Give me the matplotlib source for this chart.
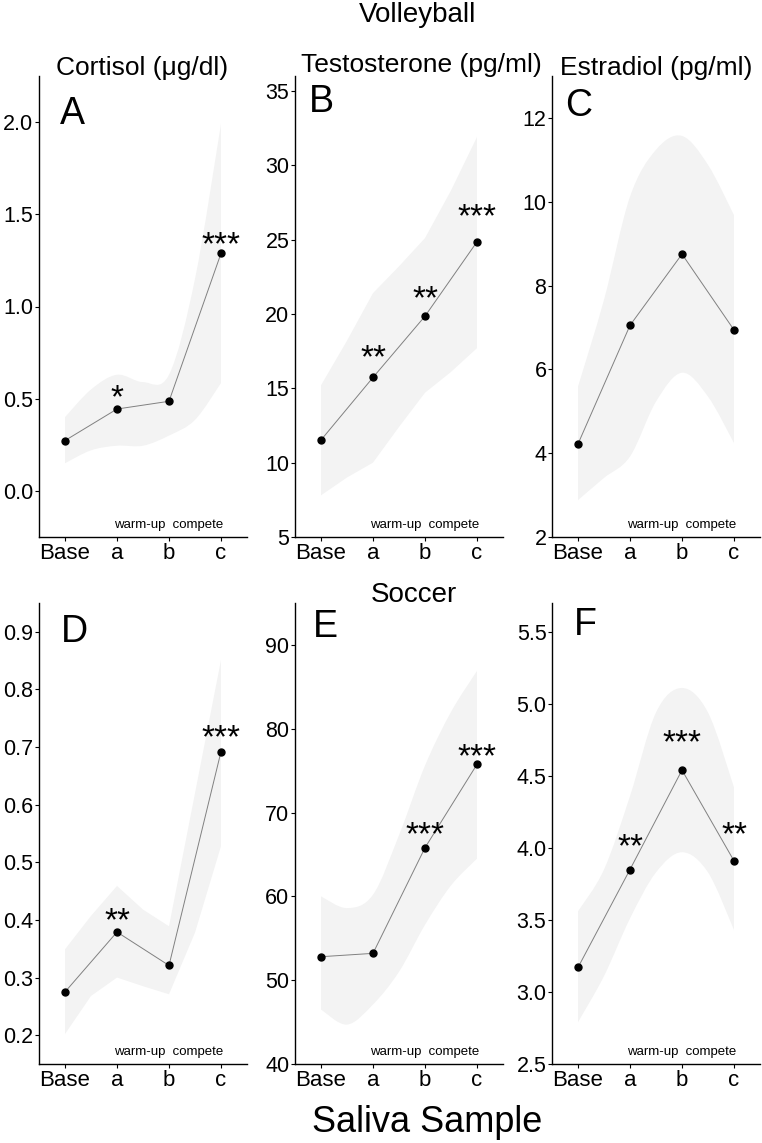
import numpy as np
import matplotlib.pyplot as plt
from matplotlib.path import Path
from matplotlib.patches import PathPatch

plt.rcParams['font.family'] = ['Liberation Sans', 'DejaVu Sans']

samples = ['Base', 'a', 'b', 'c']
xb = [0, 0.5, 1, 1.5, 2, 2.5, 3]   # where the band edges were read

# Volleyball
cort_v = [0.273, 0.444, 0.486, 1.288]
cort_v_hi = [0.40, 0.55, 0.63, 0.59, 0.63, 1.15, 1.99]
cort_v_lo = [0.15, 0.22, 0.245, 0.245, 0.30, 0.385, 0.585]
cort_v_stars = ['', '*', '', '***']
cort_v_star_y = [0, 0.558, 0, 1.387]

test_v = [11.52, 15.73, 19.85, 24.85]
test_v_hi = [15.2, 18.2, 21.4, 23.2, 25.1, 28.3, 31.9]
test_v_lo = [7.8, 9.0, 10.0, 12.4, 14.7, 16.1, 17.7]
test_v_stars = ['', '**', '**', '***']
test_v_star_y = [0, 17.7, 21.7, 27.2]

estr_v = [4.22, 7.05, 8.75, 6.94]
estr_v_hi = [5.59, 7.66, 10.12, 11.24, 11.57, 10.88, 9.68]
estr_v_lo = [2.88, 3.41, 3.92, 5.23, 5.92, 5.35, 4.24]
estr_v_stars = ['', '', '', '']
estr_v_star_y = [0, 0, 0, 0]

# Soccer
cort_s = [0.275, 0.379, 0.321, 0.692]
cort_s_hi = [0.349, 0.407, 0.459, 0.418, 0.389, 0.62, 0.851]
cort_s_lo = [0.202, 0.268, 0.300, 0.285, 0.271, 0.378, 0.528]
cort_s_stars = ['', '**', '', '***']
cort_s_star_y = [0, 0.415, 0, 0.733]

test_s = [52.8, 53.2, 65.8, 75.75]
test_s_hi = [60.0, 58.6, 60.2, 67.3, 75.6, 82.0, 86.9]
test_s_lo = [46.5, 44.7, 47.1, 51.0, 56.6, 61.3, 64.5]
test_s_stars = ['', '', '***', '***']
test_s_star_y = [0, 0, 68.5, 77.8]

estr_s = [3.17, 3.85, 4.54, 3.91]
estr_s_hi = [3.56, 3.85, 4.36, 4.94, 5.11, 4.94, 4.42]
estr_s_lo = [2.79, 3.11, 3.51, 3.83, 3.97, 3.83, 3.43]
estr_s_stars = ['', '**', '***', '**']
estr_s_star_y = [0, 4.08, 4.80, 4.16]

panels = [
    ('A', cort_v, cort_v_hi, cort_v_lo, cort_v_stars, cort_v_star_y, (-0.25, 2.25), [0, 0.5, 1.0, 1.5, 2.0], '%.1f', True),
    ('B', test_v, test_v_hi, test_v_lo, test_v_stars, test_v_star_y, (5, 36), [5, 10, 15, 20, 25, 30, 35], '%d', False),
    ('C', estr_v, estr_v_hi, estr_v_lo, estr_v_stars, estr_v_star_y, (2, 13), [2, 4, 6, 8, 10, 12], '%d', True),
    ('D', cort_s, cort_s_hi, cort_s_lo, cort_s_stars, cort_s_star_y, (0.15, 0.95), [0.2, 0.3, 0.4, 0.5, 0.6, 0.7, 0.8, 0.9], '%.1f', False),
    ('E', test_s, test_s_hi, test_s_lo, test_s_stars, test_s_star_y, (40, 95), [40, 50, 60, 70, 80, 90], '%d', True),
    ('F', estr_s, estr_s_hi, estr_s_lo, estr_s_stars, estr_s_star_y, (2.5, 5.7), [2.5, 3.0, 3.5, 4.0, 4.5, 5.0, 5.5], '%.1f', True),
]


def edge_path(xs, ys, smooth):
    # path pieces through the read points; bezier handles when smooth
    pts = list(zip(xs, ys))
    verts, codes = [], []
    n = len(pts)
    for k in range(n - 1):
        p1, p2 = np.array(pts[k]), np.array(pts[k + 1])
        if smooth:
            p0 = np.array(pts[max(k - 1, 0)])
            p3 = np.array(pts[min(k + 2, n - 1)])
            c1 = p1 + (p2 - p0) / 6
            c2 = p2 - (p3 - p1) / 6
            verts += [tuple(c1), tuple(c2), tuple(p2)]
            codes += [Path.CURVE4] * 3
        else:
            verts.append(tuple(p2))
            codes.append(Path.LINETO)
    return verts, codes


W, H = 762, 1143
fig = plt.figure(figsize=(W / 100, H / 100), dpi=100)

lefts = [39, 295, 552]
letter_off = [(21, 38), (14, 26), (13, 30), (22, 29), (18, 24), (22, 22)]

for i, (letter, y, hi, lo, stars, star_y, ylim, yt, fmt, smooth) in enumerate(panels):
    row, col = divmod(i, 3)
    bottom_px = 537 if row == 0 else 1064
    ax = fig.add_axes([lefts[col] / W, 1 - bottom_px / H, 208 / W, 461 / H])
    x = np.arange(len(samples))

    v_up, c_up = edge_path(xb, hi, smooth)
    v_lo, c_lo = edge_path(xb[::-1], lo[::-1], smooth)
    verts = [(xb[0], hi[0])] + v_up + [(xb[-1], lo[-1])] + v_lo + [(xb[0], hi[0])]
    codes = [Path.MOVETO] + c_up + [Path.LINETO] + c_lo + [Path.CLOSEPOLY]
    ax.add_patch(PathPatch(Path(verts, codes), facecolor='#f3f3f3', lw=0, zorder=1))

    ax.plot(x, y, color='#808080', lw=0.7, zorder=2)
    ax.plot(x, y, 'o', color='black', ms=5, zorder=3)
    for xi, s, sy in zip(x, stars, star_y):
        if s:
            ax.annotate(s, (xi, sy), xytext=(0, -14), textcoords='offset points',
                        ha='center', va='baseline', fontsize=24)
    ax.set_xlim(-0.5, 3.5)
    ax.set_ylim(*ylim)
    ax.set_xticks(x)
    ax.set_xticklabels(samples)
    ax.set_yticks(yt)
    ax.set_yticklabels([fmt % v for v in yt])
    ax.tick_params(axis='x', labelsize=16, length=3, pad=1, width=0.8)
    ax.tick_params(axis='y', labelsize=15.5, length=3, pad=1, width=0.8)
    for sp in ['top', 'right']:
        ax.spines[sp].set_visible(False)
    for sp in ['left', 'bottom']:
        ax.spines[sp].set_linewidth(1.0)
    dx, dy = letter_off[i]
    ax.annotate(letter, (0, 1), xycoords='axes fraction', xytext=(dx / 1.389, -dy / 1.389),
                textcoords='offset points', ha='left', va='center', fontsize=27)
    ax.annotate('warm-up  compete', (2, 0), xycoords=('data', 'axes fraction'),
                xytext=(0, 4), textcoords='offset points', ha='center', va='bottom', fontsize=9.5)


def ftext(px, py, s, size):
    fig.text(px / W, 1 - py / H, s, ha='center', va='center', fontsize=size)


ftext(418, 15, 'Volleyball', 20)
ftext(142, 68, 'Cortisol (\u03bcg/dl)', 19)
ftext(421, 65, 'Testosterone (pg/ml)', 19)
ftext(656, 68, 'Estradiol (pg/ml)', 19)
ftext(414, 595, 'Soccer', 20)
ftext(427, 1122, 'Saliva Sample', 26)

fig.savefig('out.png', dpi=100)
